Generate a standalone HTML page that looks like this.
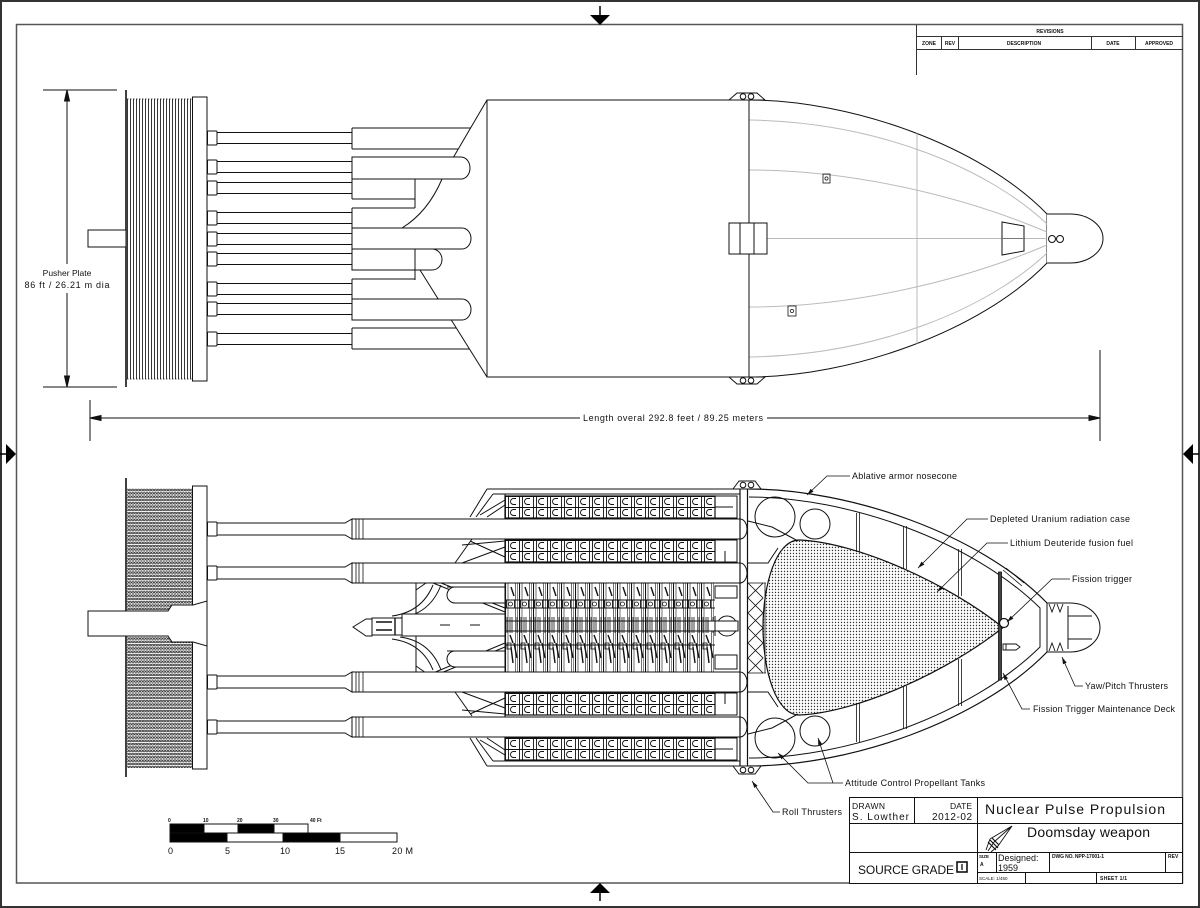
<!DOCTYPE html>
<html><head><meta charset="utf-8"><style>
html,body{margin:0;padding:0;background:#fff;}
svg{display:block;}
text{font-family:"Liberation Sans",sans-serif;fill:#111;}
</style></head><body>
<svg width="1200" height="908" viewBox="0 0 1200 908" xmlns="http://www.w3.org/2000/svg">
<defs>
 <pattern id="vl" patternUnits="userSpaceOnUse" width="3" height="20"><line x1="1.5" y1="0" x2="1.5" y2="20" stroke="#222" stroke-width="0.9"/></pattern>
 <pattern id="oo" patternUnits="userSpaceOnUse" width="2.8" height="3.3"><ellipse cx="1.4" cy="1.65" rx="1.05" ry="0.95" fill="none" stroke="#222" stroke-width="0.75"/></pattern>
 <pattern id="dots" patternUnits="userSpaceOnUse" width="3" height="3"><circle cx="1.5" cy="1.5" r="0.7" fill="#333"/></pattern>
 <pattern id="cells" patternUnits="userSpaceOnUse" width="14" height="11">
  <path d="M0.5,0 V11 M0,0.5 H14 M3.5,0 V11" stroke="#111" stroke-width="0.9" fill="none"/>
  <path d="M11,2.5 H8.5 A3,3 0 0 0 8.5,8.5 H11" stroke="#111" stroke-width="0.9" fill="none"/>
 </pattern>
 <pattern id="rack" patternUnits="userSpaceOnUse" width="14" height="90">
  <g stroke="#111" fill="none">
   <line x1="0.5" y1="0" x2="0.5" y2="90" stroke-width="1.1"/>
   <line x1="3" y1="0" x2="3" y2="90" stroke-width="0.6"/>
   <line x1="10.5" y1="0" x2="10.5" y2="90" stroke-width="0.6"/>
   <line x1="12.5" y1="0" x2="12.5" y2="90" stroke-width="0.5"/>
   <path d="M6,4 L9,13" stroke-width="1.4"/>
   <rect x="1.5" y="17" width="8" height="8" stroke-width="0.9"/>
   <circle cx="5.5" cy="21" r="2" stroke-width="0.8"/>
   <path d="M2,34 V50 M5,34 V50 M7,34 V50 M12,34 V50" stroke-width="0.8"/>
   <path d="M5,52 L8,60 M9,60 L12,75 M6,64 L8,80" stroke-width="1.4"/>
   <rect x="2" y="60" width="4" height="6" stroke-width="0.8"/>
  </g>
 </pattern>
</defs>

<!-- borders -->
<rect x="1" y="1" width="1198" height="906" fill="none" stroke="#333" stroke-width="2"/>
<rect x="16.5" y="24.5" width="1166" height="858.5" fill="none" stroke="#555" stroke-width="1.5"/>
<g fill="#000" stroke="#000" stroke-width="1.5">
 <line x1="600" y1="6" x2="600" y2="15"/><polygon points="590,15 610,15 600,25" stroke="none"/>
 <line x1="0" y1="454" x2="6" y2="454"/><polygon points="6,444 6,464 16,454" stroke="none"/>
 <line x1="1193" y1="454" x2="1199" y2="454"/><polygon points="1193,444 1193,464 1183,454" stroke="none"/>
 <line x1="600" y1="893" x2="600" y2="901"/><polygon points="590,893 610,893 600,883" stroke="none"/>
</g>

<!-- revisions -->
<g stroke="#333" stroke-width="1" fill="none">
 <path d="M916.5,25 V75 M916,36.5 H1183 M916,49.5 H1183 M941.5,36 V49 M958.5,36 V49 M1091.5,36 V49 M1135.5,36 V49"/>
</g>
<g font-size="5" font-weight="bold" text-anchor="middle">
 <text x="1050" y="33">REVISIONS</text>
 <text x="929" y="45">ZONE</text><text x="950" y="45">REV</text><text x="1024" y="45">DESCRIPTION</text><text x="1113" y="45">DATE</text><text x="1159" y="45">APPROVED</text>
</g>

<!-- ================= TOP VIEW ================= -->
<g stroke="#111" fill="none" stroke-width="1">
 <path d="M43,90 H117 M43,387 H117 M67,90 V264 M67,293 V387"/>
 <polygon points="67,90 64.5,101 69.5,101" fill="#111"/>
 <polygon points="67,387 64.5,376 69.5,376" fill="#111"/>
 <line x1="126" y1="90" x2="126" y2="387" stroke-width="1.6"/>
 <rect x="127" y="99" width="65" height="280" fill="url(#vl)" stroke="none"/>
 <path d="M127,99 H192 M127,379 H192" stroke-dasharray="1.5,1.5" stroke-width="0.8"/>
 <rect x="192.5" y="97" width="14.5" height="284" fill="#fff"/>
 <rect x="88" y="230" width="38" height="17" fill="#fff"/>
 <path d="M487,100 L453,158 M442,179 Q428,212 402,228 M420,270 L487,377"/>
 <g fill="#fff">
  <rect x="217" y="132.5" width="135" height="11"/><rect x="207.5" y="131" width="9.5" height="14" rx="1"/>
  <rect x="217" y="161.5" width="135" height="11"/><rect x="207.5" y="160" width="9.5" height="14" rx="1"/>
  <rect x="217" y="182.5" width="135" height="11"/><rect x="207.5" y="181" width="9.5" height="14" rx="1"/>
  <rect x="217" y="212.5" width="135" height="11"/><rect x="207.5" y="211" width="9.5" height="14" rx="1"/>
  <rect x="217" y="233.5" width="135" height="11"/><rect x="207.5" y="232" width="9.5" height="14" rx="1"/>
  <rect x="217" y="253.5" width="135" height="11"/><rect x="207.5" y="252" width="9.5" height="14" rx="1"/>
  <rect x="217" y="283.5" width="135" height="11"/><rect x="207.5" y="282" width="9.5" height="14" rx="1"/>
  <rect x="217" y="303.5" width="135" height="11"/><rect x="207.5" y="302" width="9.5" height="14" rx="1"/>
  <rect x="217" y="333.5" width="135" height="11"/><rect x="207.5" y="332" width="9.5" height="14" rx="1"/>
 </g>
 <path d="M352,128 H470.7 M352,149 H458.4 M352,128 V149"/>
 <path d="M352,157 H461 A9,11 0 0 1 461,179 H352 Z" fill="#fff"/>
 <path d="M352,179 H415 V208 M352,199 H415 M352,179 V199"/>
 <path d="M352,208 H415 M352,208 V228"/>
 <path d="M352,228 H462 A9,10.5 0 0 1 462,249 H352 Z" fill="#fff"/>
 <path d="M352,249 H432 A10,10.5 0 0 1 432,270 H352 Z" fill="#fff"/>
 <path d="M415,249 V280 M352,279 H415 M352,279 V299"/>
 <path d="M352,299 H462 A9,10.5 0 0 1 462,320 H352 Z" fill="#fff"/>
 <path d="M352,328 H456.3 M352,349 H469.5 M352,328 V349"/>
 <rect x="487" y="100" width="262" height="277" fill="#fff"/>
 <path d="M749,100 C850,100 980,145 1047,214 L1047,263 C980,332 850,377 749,377" fill="#fff"/>
 <path d="M1047,214 H1070 A33,24.5 0 0 1 1070,263 H1047" fill="#fff"/>
 <g stroke="#bbb">
  <path d="M767,238.5 H1047"/>
  <path d="M749,120 C880,122 990,170 1047,224"/>
  <path d="M749,170 C850,170 960,195 1047,232"/>
  <path d="M749,307 C850,307 960,282 1047,245"/>
  <path d="M749,357 C880,355 990,307 1047,253"/>
  <path d="M917,133.5 V343.5"/>
 </g>
 <line x1="749" y1="100" x2="749" y2="377"/>
 <polygon points="729,100 737,93 757,93 765,100" fill="#fff"/>
 <circle cx="743" cy="96.5" r="2.8"/><circle cx="751" cy="96.5" r="2.8"/>
 <polygon points="729,377 737,384 757,384 765,377" fill="#fff"/>
 <circle cx="743" cy="380.5" r="2.8"/><circle cx="751" cy="380.5" r="2.8"/>
 <rect x="729" y="223" width="38" height="31" fill="#fff"/>
 <path d="M740,223 V254 M754,223 V254"/>
 <rect x="823" y="174" width="7" height="9" stroke-width="0.8"/><circle cx="826.5" cy="178.5" r="1.6" stroke-width="0.7"/>
 <rect x="788" y="306" width="8" height="10" stroke-width="0.8"/><circle cx="792" cy="311" r="1.6" stroke-width="0.7"/>
 <polygon points="1002,222 1024,226 1024,251 1002,255" fill="#fff"/>
 <line x1="1002" y1="238.5" x2="1024" y2="238.5" stroke="#777"/>
 <circle cx="1052" cy="239" r="3.5"/><circle cx="1060" cy="239" r="3.5"/>
 <path d="M90,400 V441 M1100,350 V441 M90,418 H580 M767,418 H1100"/>
 <polygon points="90,418 101,415.5 101,420.5" fill="#111"/>
 <polygon points="1100,418 1089,415.5 1089,420.5" fill="#111"/>
</g>
<text x="67" y="276" font-size="8.5" text-anchor="middle">Pusher Plate</text>
<text x="67" y="288" font-size="9" text-anchor="middle" textLength="85" lengthAdjust="spacing">86 ft / 26.21 m dia</text>
<text x="583" y="421" font-size="9" textLength="180" lengthAdjust="spacing">Length overal 292.8 feet / 89.25 meters</text>

<!-- ================= BOTTOM VIEW ================= -->
<g stroke="#111" fill="none" stroke-width="1">
 <line x1="126" y1="478" x2="126" y2="777" stroke-width="1.6"/>
 <rect x="127" y="488" width="65" height="280" fill="url(#oo)" stroke="none"/>
 <rect x="192.5" y="486" width="14.5" height="283" fill="#fff"/>
 <path d="M88,611 H168 L172,605 H193 L207,601 V646 L193,642 H172 L168,636 H88 Z" fill="#fff"/>

 <path d="M487,489 H740 M493,494 H740 M487,766 H740 M493,761 H740 M505,494 V761"/>
 <path d="M470,517 L487,489 M476,517 L493,494 M480,515 L505,500 M487,517 L505,505"/>
 <path d="M470,738 L487,766 M476,738 L493,761 M480,740 L505,755 M487,738 L505,750"/>
 <path d="M455,563 L472,539 M462,563 L505,547 M470,541 L505,557 M462,545 L505,541"/>
 <path d="M455,692 L472,716 M462,692 L505,708 M470,714 L505,698 M462,710 L505,714"/>
 <path d="M416,583 V673 M416,583 H505 M416,673 H505"/>
 <path d="M433,583 L505,612 M441,583 L505,608 M433,673 L505,643 M441,673 L505,647"/>
 <path d="M433,585 Q422,612 392,616 M441,585 Q430,614 400,618 M433,670 Q422,643 392,639 M441,670 Q430,641 400,637"/>
 <path d="M416,590 L426,583 M416,666 L426,673"/>
 <path d="M447,587 H505 V603 H455 A8,8 0 0 1 455,587 Z" fill="#fff"/>
 <path d="M447,651 H505 V667 H455 A8,8 0 0 1 455,651 Z" fill="#fff"/>
 <g fill="#fff">
  <path d="M217,523 H345 L352,519 V539 L345,535 H217 Z"/><rect x="207.5" y="522" width="9.5" height="14" rx="1"/>
  <path d="M217,567 H345 L352,563 V583 L345,579 H217 Z"/><rect x="207.5" y="566" width="9.5" height="14" rx="1"/>
  <path d="M217,676 H345 L352,672 V692 L345,688 H217 Z"/><rect x="207.5" y="675" width="9.5" height="14" rx="1"/>
  <path d="M217,721 H345 L352,717 V737 L345,733 H217 Z"/><rect x="207.5" y="720" width="9.5" height="14" rx="1"/>
 </g>
 <path d="M353,627 L366,619 H372 V636 H366 Z" fill="#fff"/>
 <rect x="372" y="618" width="30" height="17" fill="#fff"/>
 <path d="M376,622 H392 M376,630 H392 M395,618 V635" stroke-width="1.4"/>
 <rect x="402" y="614" width="103" height="22" fill="#fff"/>
 <path d="M440,625 H450 M470,625 H480"/>
 <g transform="translate(505,583)"><rect width="210" height="90" fill="url(#rack)" stroke="none"/></g>
 <path d="M505,600 H715 M505,608 H715 M505,621 H725 M505,631 H725 M505,645 H715" stroke-width="0.9"/>
 <circle cx="727" cy="626" r="10" fill="#fff"/>
 <path d="M708,621 H738 V631 H708 Z M715,616 V636" fill="#fff"/>
 <rect x="715" y="586" width="22" height="12"/><rect x="715" y="655" width="22" height="14"/>
 <g transform="translate(505,496)"><rect width="210" height="22" fill="url(#cells)" stroke="#111" stroke-width="1.2"/></g>
 <g transform="translate(505,540)"><rect width="210" height="22" fill="url(#cells)" stroke="#111" stroke-width="1.2"/></g>
 <g transform="translate(505,693)"><rect width="210" height="22" fill="url(#cells)" stroke="#111" stroke-width="1.2"/></g>
 <g transform="translate(505,738)"><rect width="210" height="22" fill="url(#cells)" stroke="#111" stroke-width="1.2"/></g>
 <path d="M715,496 H737 V518 H715 M715,507 H733 M715,540 H737 V562 H715 M725,551 V562 M715,693 H737 V715 H715 M725,693 V704 M715,738 H737 V760 H715 M715,749 H733"/>
 <g fill="#fff">
  <path d="M352,519 H740 A7,10 0 0 1 740,539 H352 Z"/>
  <path d="M352,563 H740 A7,10 0 0 1 740,583 H352 Z"/>
  <path d="M352,672 H740 A7,10 0 0 1 740,692 H352 Z"/>
  <path d="M352,717 H740 A7,10 0 0 1 740,737 H352 Z"/>
 </g>
 <path d="M356,519 V539 M359,519 V539 M363,519 V539 M356,563 V583 M359,563 V583 M363,563 V583 M356,672 V692 M359,672 V692 M363,672 V692 M356,717 V737 M359,717 V737 M363,717 V737" stroke-width="0.8"/>
 <path d="M740,483 V772 M747.5,483 V772" stroke-width="1.2"/>
 <path d="M749,489 C850,489 980,534 1047,603 M749,766 C850,766 980,721 1047,652" stroke-width="1.2"/>
 <path d="M749,497 C848,497 972,541 1040,608 L1040,647 C972,714 848,758 749,758"/>
 <path d="M1047,603 H1070 A30,24.5 0 0 1 1070,652 H1047 Z" fill="#fff"/>
 <path d="M1068,606 V649 M1068,616 H1092 M1068,639 H1092"/>
 <path d="M1049,604 L1052,612 L1055,604 M1057,604 L1060,612 L1063,604 M1049,651 L1052,643 L1055,651 M1057,651 L1060,643 L1063,651" stroke-width="0.9"/>
 <polygon points="733,489 739,481 755,481 761,489" fill="#fff"/>
 <circle cx="743" cy="485" r="2.8"/><circle cx="751" cy="485" r="2.8"/>
 <polygon points="733,766 739,774 755,774 761,766" fill="#fff"/>
 <circle cx="743" cy="770" r="2.8"/><circle cx="751" cy="770" r="2.8"/>
 <path d="M748,521 L772,527 L798,541 M748,563 L768,563 L778,548 M748,734 L772,728 L798,714 M748,692 L768,692 L778,707"/>
 <path d="M748,583 L763,598 L748,613 L763,628 L748,643 L763,658 L748,673 M763,583 L748,598 L763,613 L748,628 L763,643 L748,658 L763,673 M765,583 V673 M748,583 H766 M748,673 H766" stroke-width="0.8"/>
 <path d="M1003,627.5 C950,585 860,543 800,540 C776,539 763,585 763,627.5 C763,670 776,716 800,715 C860,712 950,670 1003,627.5 Z" fill="url(#dots)" stroke-width="1.2"/>
 <circle cx="775" cy="517" r="20"/><circle cx="815" cy="524" r="15"/>
 <circle cx="775" cy="738" r="20"/><circle cx="815" cy="731" r="15"/>
 <path d="M856.5,513 V552 M859.5,513 V552 M903.5,526 V569 M906.5,526 V569 M958.5,549 V596 M961.5,549 V596 M856.5,703 V742 M859.5,703 V742 M903.5,686 V729 M906.5,686 V729 M958.5,659 V706 M961.5,659 V706" stroke-width="0.8"/>
 <rect x="998.5" y="572" width="3" height="108" fill="#444" stroke-width="0.8"/>
 <path d="M1003,570 L1022,586 M1006,568 L1024,583" stroke-width="0.8"/>
 <circle cx="1004" cy="623" r="4.5" fill="#fff" stroke-width="1.2"/>
 <path d="M1003,644 H1016 L1020,647 L1016,650 H1003 Z M1006,644 V650" stroke-width="0.9"/>
 <g stroke-width="0.8">
  <path d="M850,476 H827 L807,495"/>
  <path d="M988,519 H967 L918,568"/>
  <path d="M1008,543 H987 L937,592"/>
  <path d="M1070,579 H1052 L1007,622"/>
  <path d="M1083,686 H1075 L1062,657"/>
  <path d="M1030,709 H1022 L1003,673"/>
  <path d="M843,783 H808 L778,753 M833,783 L818,738"/>
  <path d="M780,812 H773 L752,781"/>
 </g>
 <g fill="#111" stroke="none">
  <polygon points="807,495 813.5,491.6 810.7,488.7"/>
  <polygon points="918,568 924.4,564.5 921.5,561.6"/>
  <polygon points="937,592 943.4,588.5 940.6,585.7"/>
  <polygon points="1007,622 1013.4,618.6 1010.7,615.7"/>
  <polygon points="1062,657 1066.7,662.6 1063,664.2"/>
  <polygon points="1003,673 1008,678.3 1004.5,680.1"/>
  <polygon points="778,753 784.4,756.5 781.5,759.4"/>
  <polygon points="818,738 822.1,744 818.3,745.3"/>
  <polygon points="752,781 757.6,785.7 754.3,787.9"/>
 </g>
</g>
<g font-size="9">
 <text x="852" y="479" textLength="105" lengthAdjust="spacing">Ablative armor nosecone</text>
 <text x="990" y="522" textLength="140" lengthAdjust="spacing">Depleted Uranium radiation case</text>
 <text x="1010" y="546" textLength="123" lengthAdjust="spacing">Lithium Deuteride fusion fuel</text>
 <text x="1072" y="582" textLength="60" lengthAdjust="spacing">Fission trigger</text>
 <text x="1085" y="689" textLength="83" lengthAdjust="spacing">Yaw/Pitch Thrusters</text>
 <text x="1033" y="712" textLength="142" lengthAdjust="spacing">Fission Trigger Maintenance Deck</text>
 <text x="845" y="786" textLength="140" lengthAdjust="spacing">Attitude Control Propellant Tanks</text>
 <text x="782" y="815" textLength="60" lengthAdjust="spacing">Roll Thrusters</text>
</g>

<!-- scale bar -->
<g stroke="#111" stroke-width="1">
 <rect x="170" y="824" width="34" height="9" fill="#000"/>
 <rect x="204" y="824" width="34" height="9" fill="#fff"/>
 <rect x="238" y="824" width="36" height="9" fill="#000"/>
 <rect x="274" y="824" width="34" height="9" fill="#fff"/>
 <rect x="170" y="833" width="57" height="9" fill="#000"/>
 <rect x="227" y="833" width="56" height="9" fill="#fff"/>
 <rect x="283" y="833" width="57" height="9" fill="#000"/>
 <rect x="340" y="833" width="57" height="9" fill="#fff"/>
</g>
<g font-size="5" font-weight="bold">
 <text x="168" y="822">0</text><text x="203" y="822">10</text><text x="237" y="822">20</text><text x="273" y="822">30</text><text x="310" y="822">40 Ft</text>
</g>
<g font-size="9">
 <text x="168" y="854">0</text><text x="225" y="854">5</text><text x="280" y="854">10</text><text x="335" y="854">15</text><text x="392" y="854" textLength="21" lengthAdjust="spacing">20 M</text>
</g>

<!-- title block -->
<g stroke="#111" stroke-width="1" fill="none">
 <rect x="849.5" y="797.5" width="333" height="86" fill="#fff"/>
 <path d="M977.5,797 V883 M849,823.5 H1182 M849,852.5 H1182 M914.5,797 V823 M977,872.5 H1182 M996.5,852 V872 M1049.5,852 V872 M1165.5,852 V872 M1025.5,872 V883 M1096.5,872 V883"/>
 <rect x="957" y="862" width="10" height="10" stroke-width="1.6"/>
 <path d="M962,864 V870" stroke-width="1.3"/>
 <path d="M1012,826 L994,842 M1012,826 L998,846 M1012,826 L990,839 M990,839 L986,850 M994,842 L988,851 M998,846 L991,852" stroke-width="0.9"/>
 <path d="M988,842 L996,850 M990,840 L998,848 M992,838 L999,845" stroke-width="1.2"/>
</g>
<text x="852" y="809" font-size="8.5" textLength="33" lengthAdjust="spacing">DRAWN</text>
<text x="852" y="820" font-size="10" textLength="57" lengthAdjust="spacing">S. Lowther</text>
<text x="972" y="809" font-size="8.5" text-anchor="end">DATE</text>
<text x="932" y="820" font-size="10" textLength="40" lengthAdjust="spacing">2012-02</text>
<text x="985" y="814" font-size="14" textLength="180" lengthAdjust="spacing">Nuclear Pulse Propulsion</text>
<text x="1027" y="837" font-size="14" textLength="123" lengthAdjust="spacing">Doomsday weapon</text>
<text x="858" y="874" font-size="12" textLength="96" lengthAdjust="spacing">SOURCE GRADE</text>
<text x="979" y="858" font-size="4.5" font-weight="bold">SIZE</text>
<text x="980" y="866" font-size="5" font-weight="bold">A</text>
<text x="998" y="861" font-size="9">Designed:</text>
<text x="998" y="871" font-size="9">1959</text>
<text x="1052" y="858" font-size="5" font-weight="bold" textLength="52" lengthAdjust="spacing">DWG NO. NPP-17001-1</text>
<text x="1168" y="858" font-size="5" font-weight="bold">REV</text>
<text x="979" y="880" font-size="4.5">SCALE: 1/450</text>
<text x="1100" y="880" font-size="5" font-weight="bold" textLength="27" lengthAdjust="spacing">SHEET 1/1</text>
</svg>
</body></html>
